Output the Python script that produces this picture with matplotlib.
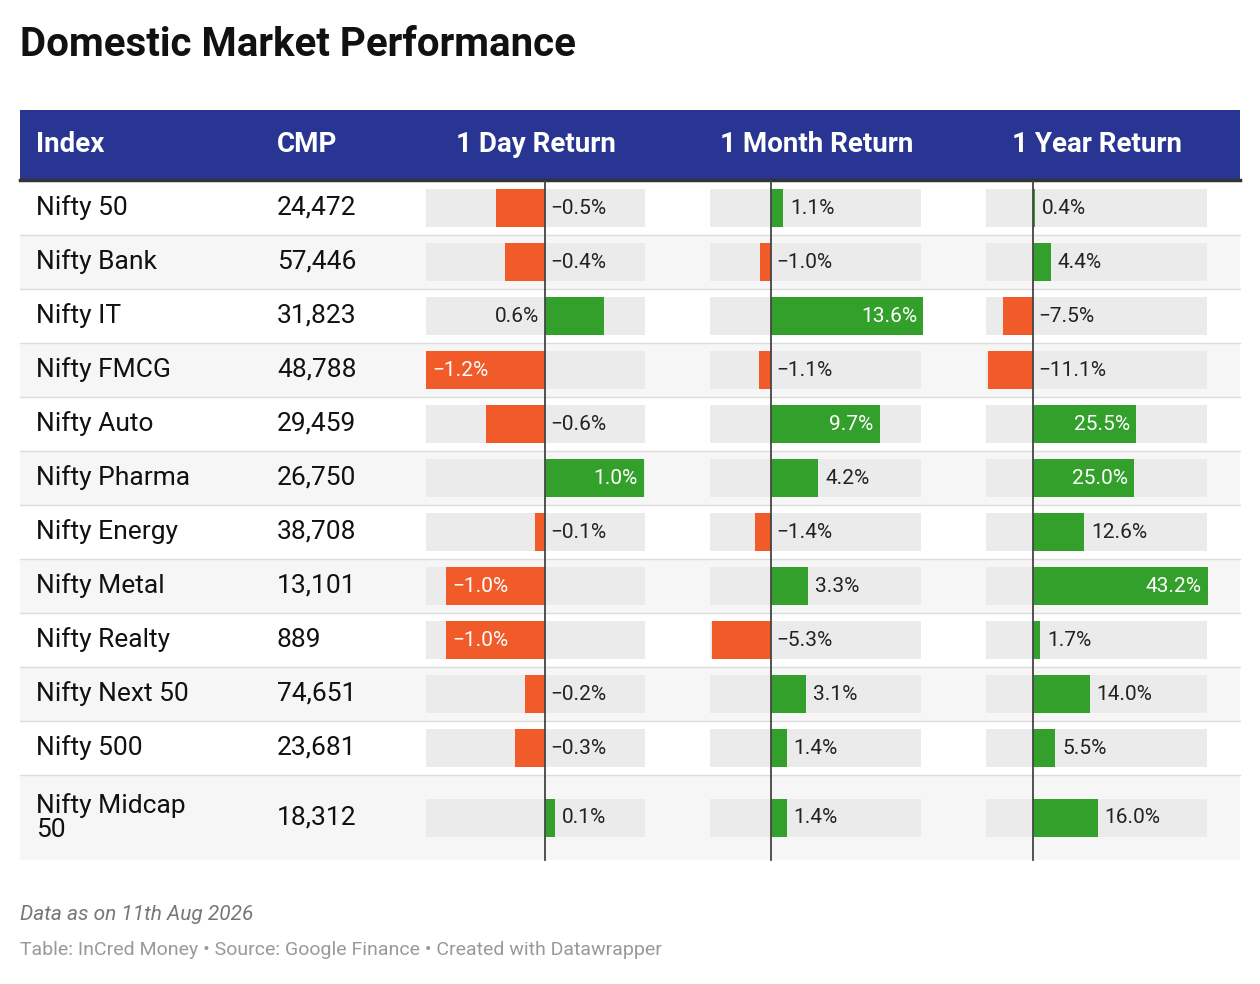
import matplotlib.pyplot as plt
from matplotlib.patches import Rectangle

plt.rcParams['font.family'] = ['Roboto', 'DejaVu Sans']

indices = ["Nifty 50", "Nifty Bank", "Nifty IT", "Nifty FMCG", "Nifty Auto", "Nifty Pharma",
           "Nifty Energy", "Nifty Metal", "Nifty Realty", "Nifty Next 50", "Nifty 500", "Nifty Midcap\n50"]
cmp_vals = ["24,472", "57,446", "31,823", "48,788", "29,459", "26,750",
            "38,708", "13,101", "889", "74,651", "23,681", "18,312"]
day_ret = [-0.5, -0.4, 0.6, -1.2, -0.6, 1.0, -0.1, -1.0, -1.0, -0.2, -0.3, 0.1]
month_ret = [1.1, -1.0, 13.6, -1.1, 9.7, 4.2, -1.4, 3.3, -5.3, 3.1, 1.4, 1.4]
year_ret = [0.4, 4.4, -7.5, -11.1, 25.5, 25.0, 12.6, 43.2, 1.7, 14.0, 5.5, 16.0]

ORANGE = "#f15a29"
GREEN = "#33a02c"
BLUE = "#283593"

fig = plt.figure(figsize=(12.6, 9.84), dpi=100)
ax = fig.add_axes([0, 0, 1, 1])
ax.set_xlim(0, 1260)
ax.set_ylim(984, 0)
ax.axis('off')

ax.text(20, 45, "Domestic Market Performance", fontsize=29, fontweight='bold', va='center', color='#111')

# header
ax.add_patch(Rectangle((20, 110), 1220, 70, color=BLUE, lw=0))
ax.plot([20, 1240], [180, 180], color='#333', lw=2.5)
hy = 145
ax.text(36, hy, "Index", color='white', fontsize=20, fontweight='bold', va='center')
ax.text(277, hy, "CMP", color='white', fontsize=20, fontweight='bold', va='center')
ax.text(536, hy, "1 Day Return", color='white', fontsize=20, fontweight='bold', va='center', ha='center')
ax.text(817, hy, "1 Month Return", color='white', fontsize=20, fontweight='bold', va='center', ha='center')
ax.text(1097, hy, "1 Year Return", color='white', fontsize=20, fontweight='bold', va='center', ha='center')

# columns: (values, bg_left, bg_right, zero_x, px per %)
cols = [(day_ret, 426, 645, 545, 99.0),
        (month_ret, 710, 921, 771, 11.2),
        (year_ret, 986, 1207, 1033, 4.05)]

row_h = [54] * 11 + [85]
y = 181
for i, name in enumerate(indices):
    h = row_h[i]
    if i % 2 == 1:
        ax.add_patch(Rectangle((20, y), 1220, h, color='#f6f6f6', lw=0))
    if i > 0:
        ax.plot([20, 1240], [y, y], color='#dcdcdc', lw=1)
    cy = y + h / 2
    ax.text(36, cy, name, fontsize=19, va='center', color='#111', linespacing=1.0)
    ax.text(277, cy, cmp_vals[i], fontsize=19, va='center', color='#111')
    for vals, l, r, z, s in cols:
        v = vals[i]
        ax.add_patch(Rectangle((l, cy - 19), r - l, 38, color='#ebebeb', lw=0))
        w = v * s
        ax.add_patch(Rectangle((z, cy - 19), w, 38, color=GREEN if v > 0 else ORANGE, lw=0))
        lab = f"{v:.1f}%".replace("-", "\u2212")
        if abs(w) > 75:
            if v > 0:
                ax.text(z + w - 6, cy, lab, color='white', fontsize=15, va='center', ha='right')
            else:
                ax.text(z + w + 6, cy, lab, color='white', fontsize=15, va='center', ha='left')
        elif v < 0:
            ax.text(z + 5, cy, lab, color='#222', fontsize=15, va='center', ha='left')
        elif z + w + 60 > r:
            ax.text(z - 6, cy, lab, color='#222', fontsize=15, va='center', ha='right')
        else:
            ax.text(z + w + 7, cy, lab, color='#222', fontsize=15, va='center', ha='left')
    y += h

for vals, l, r, z, s in cols:
    ax.plot([z, z], [181, y], color='#444', lw=1.3)

ax.text(20, 914, "Data as on 11th Aug 2026", fontsize=15, style='italic', color='#777', va='center')
ax.text(20, 950, "Table: InCred Money \u2022 Source: Google Finance \u2022 Created with Datawrapper",
        fontsize=14, color='#999', va='center')

fig.savefig("out.png", dpi=100)
